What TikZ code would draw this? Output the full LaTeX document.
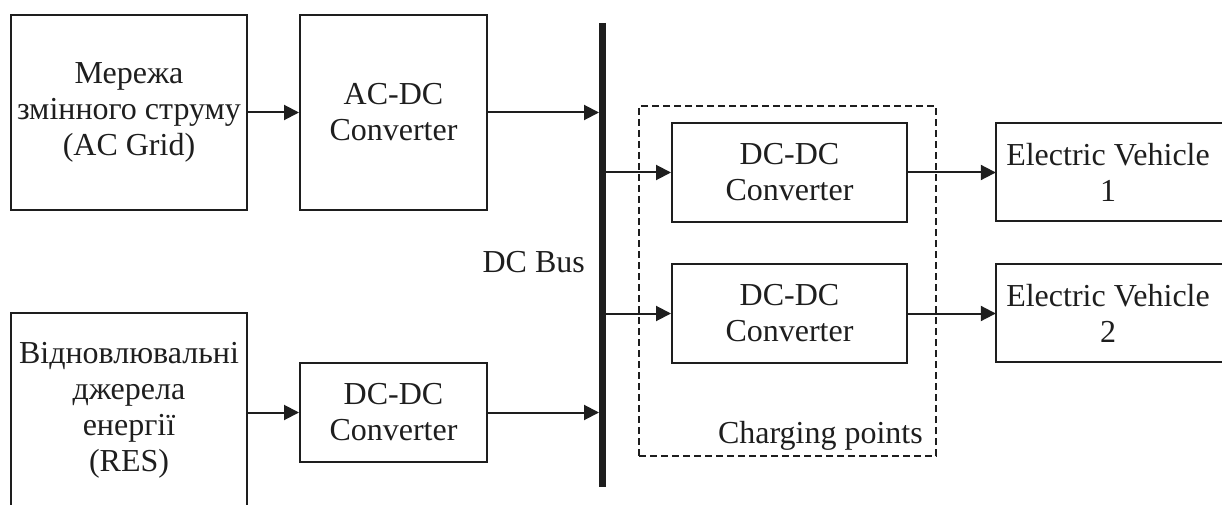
\documentclass[tikz,border=0pt]{standalone}
\usepackage{fontspec}
\setmainfont{Liberation Serif}
\usetikzlibrary{arrows.meta,calc}
\definecolor{ink}{HTML}{1E1E1E}
\begin{document}
\begin{tikzpicture}[x=1pt,y=-1pt,
  every node/.style={text=ink,font=\fontsize{32}{36}\selectfont,align=center,inner sep=0pt},
  block/.style={draw=ink,line width=2pt,minimum width=#1},
  block/.default=187pt,
  plain/.style={draw=none,minimum width=#1},
  wire/.style={draw=ink,line width=2pt},
  flow/.style={wire,-{Triangle[length=15pt,width=15pt]}},
  dashbox/.style={draw=ink,line width=1.3pt,dash pattern=on 7pt off 4pt},
  bus/.style={draw=ink,line width=7pt}]
  \useasboundingbox (0,0) rectangle (1222,505);
  \clip (0,0) rectangle (1222,505);

  % sources
  \node[block=236pt,minimum height=195pt] (grid) at (129,112.5)
    {Мережа\\змінного струму\\(AC Grid)};
  \node[plain=236pt,minimum height=195pt] (res) at (129,410.5)
    {Відновлювальні\\джерела\\енергії\\(RES)};
  \draw[wire] (res.south west) |- (res.north east) -- (res.south east);

  % converters on the source side
  \node[block,minimum height=195pt] (acdc) at (393.5,112.5) {AC-DC\\Converter};
  \node[block,minimum height=99pt] (dcres) at (393.5,412.5) {DC-DC\\Converter};

  % DC bus
  \coordinate (bt) at (602.5,23);
  \coordinate (bb) at (602.5,487);
  \node[anchor=east] (buslabel) at (585,262) {DC Bus};

  % charging points
  \node[dashbox,minimum width=297pt,minimum height=350pt] (cp) at (787.5,281) {};
  \node[anchor=base east] (cplabel) at (923,443) {Charging points};
  \node[block=235pt,minimum height=99pt] (dc1) at (789.5,172.5) {DC-DC\\Converter};
  \node[block=235pt,minimum height=99pt] (dc2) at (789.5,313.5) {DC-DC\\Converter};

  % vehicles
  \node[plain=224pt,minimum height=98pt] (ev1) at (1108,172) {Electric Vehicle\\1};
  \node[plain=224pt,minimum height=98pt] (ev2) at (1108,313) {Electric Vehicle\\2};
  \draw[wire] ($(ev1.north east)+(30,0)$) -- (ev1.north west) -- (ev1.south west) -- ($(ev1.south east)+(30,0)$);
  \draw[wire] ($(ev2.north east)+(30,0)$) -- (ev2.north west) -- (ev2.south west) -- ($(ev2.south east)+(30,0)$);

  % power flow
  \draw[flow] (grid.east) -- (acdc.west);
  \draw[flow] (res.east |- dcres.west) -- (dcres.west);
  \draw[flow,shorten >=3.5pt] (acdc.east) -- (acdc.east -| bt);
  \draw[flow,shorten >=3.5pt] (dcres.east) -- (dcres.east -| bt);
  \draw[flow] (dc1.west -| bt) -- (dc1.west);
  \draw[flow] (dc2.west -| bt) -- (dc2.west);
  \draw[flow] (dc1.east) -- (dc1.east -| ev1.west);
  \draw[flow] (dc2.east) -- (dc2.east -| ev2.west);
  \draw[bus] (bt) -- (bb);
\end{tikzpicture}
\end{document}
